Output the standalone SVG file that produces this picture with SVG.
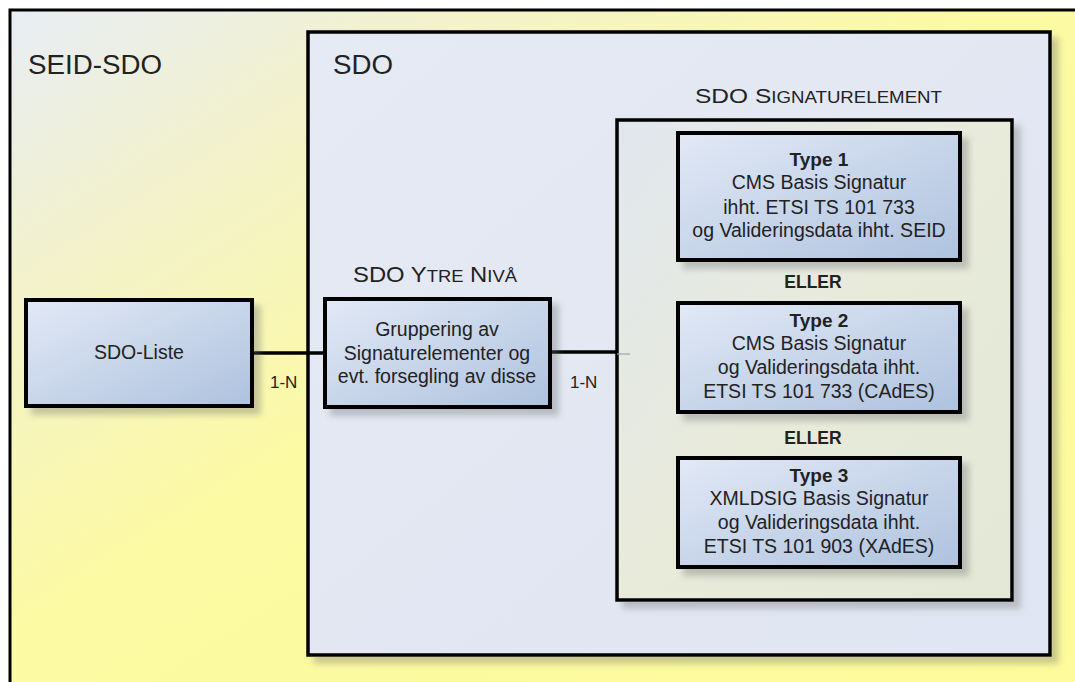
<svg xmlns="http://www.w3.org/2000/svg" width="1075" height="682" viewBox="0 0 1075 682">
<style>
text{font-family:"Liberation Sans",Arial,sans-serif;fill:#222}
.t{font-size:19.5px;text-anchor:middle}
.b{font-weight:bold;font-size:19px}
.box{fill:url(#gBox);stroke:#000;stroke-width:4;filter:url(#sh)}
.cont{stroke:#000;stroke-width:3.5}
.conn{stroke:#000;stroke-width:3.5;fill:none}
.lbl{font-size:17px}
.el{font-weight:bold;font-size:17.5px;text-anchor:middle}
</style>
<defs>
<linearGradient id="gOuter" x1="0" y1="0" x2="1" y2="1">
<stop offset="0" stop-color="#e8edf5"/>
<stop offset="0.2" stop-color="#f3f2cc"/>
<stop offset="0.45" stop-color="#fcfaa3"/>
<stop offset="1" stop-color="#fdfb9a"/>
</linearGradient>
<linearGradient id="gSDO" x1="0" y1="0" x2="1" y2="1">
<stop offset="0" stop-color="#e6eaf4"/>
<stop offset="1" stop-color="#dfe5f2"/>
</linearGradient>
<linearGradient id="gSig" x1="0" y1="0" x2="1" y2="1">
<stop offset="0" stop-color="#e2e7ef"/>
<stop offset="0.5" stop-color="#e8ebda"/>
<stop offset="1" stop-color="#e3e8d6"/>
</linearGradient>
<linearGradient id="gBox" x1="0" y1="0" x2="1" y2="1">
<stop offset="0" stop-color="#e2e9f6"/>
<stop offset="1" stop-color="#aec2de"/>
</linearGradient>
<filter id="sh" x="-10%" y="-10%" width="130%" height="130%">
<feDropShadow dx="7" dy="7" stdDeviation="3" flood-color="#6b6b6b" flood-opacity="0.35"/>
</filter>
</defs>

<g id="seid-sdo">
<rect x="10" y="10" width="1100" height="700" fill="url(#gOuter)" stroke="#000" stroke-width="3"/>
<text x="28" y="74" style="font-size:27px" textLength="134" lengthAdjust="spacingAndGlyphs">SEID-SDO</text>
</g>

<g id="sdo">
<rect class="cont" x="308" y="32" width="742" height="623" fill="url(#gSDO)" filter="url(#sh)"/>
<text x="333" y="74" style="font-size:27px" textLength="60" lengthAdjust="spacingAndGlyphs">SDO</text>
</g>

<g id="sdo-signaturelement">
<rect class="cont" x="617" y="120" width="395" height="480" fill="url(#gSig)" filter="url(#sh)"/>
<text x="695" y="103" style="font-size:21px" textLength="247" lengthAdjust="spacingAndGlyphs">SDO S<tspan style="font-size:16px">IGNATURELEMENT</tspan></text>
</g>

<g id="connectors">
<line class="conn" x1="252" y1="353" x2="325" y2="353"/>
<line class="conn" x1="550" y1="352" x2="617" y2="352"/>
<line x1="617" y1="354" x2="630" y2="354" stroke="#9aa6b8" stroke-width="2" opacity="0.6"/>
<text class="lbl" x="270" y="388">1-N</text>
<text class="lbl" x="570" y="388">1-N</text>
</g>

<g id="sdo-liste">
<rect class="box" x="26" y="300" width="226" height="106"/>
<text class="t" x="139" y="359">SDO-Liste</text>
</g>

<g id="sdo-ytre-niva">
<text x="353" y="282" style="font-size:22px" textLength="164" lengthAdjust="spacingAndGlyphs">SDO Y<tspan style="font-size:17px">TRE</tspan> N<tspan style="font-size:17px">IVÅ</tspan></text>
<rect class="box" x="325" y="299" width="225" height="108"/>
<text class="t" x="437" y="336">Gruppering av</text>
<text class="t" x="437" y="360">Signaturelementer og</text>
<text class="t" x="437" y="383">evt. forsegling av disse</text>
</g>

<g id="type1">
<rect class="box" x="678" y="133" width="282" height="127"/>
<text class="t b" x="819" y="166">Type 1</text>
<text class="t" x="819" y="189">CMS Basis Signatur</text>
<text class="t" x="819" y="214">ihht. ETSI TS 101 733</text>
<text class="t" x="819" y="237">og Valideringsdata ihht. SEID</text>
</g>

<g id="eller1">
<text class="el" x="813" y="288">ELLER</text>
</g>

<g id="type2">
<rect class="box" x="678" y="303" width="282" height="109"/>
<text class="t b" x="819" y="327">Type 2</text>
<text class="t" x="819" y="350">CMS Basis Signatur</text>
<text class="t" x="819" y="374">og Valideringsdata ihht.</text>
<text class="t" x="819" y="398">ETSI TS 101 733 (CAdES)</text>
</g>

<g id="eller2">
<text class="el" x="813" y="444">ELLER</text>
</g>

<g id="type3">
<rect class="box" x="678" y="458" width="282" height="109"/>
<text class="t b" x="819" y="482">Type 3</text>
<text class="t" x="819" y="505">XMLDSIG Basis Signatur</text>
<text class="t" x="819" y="529">og Valideringsdata ihht.</text>
<text class="t" x="819" y="553">ETSI TS 101 903 (XAdES)</text>
</g>
</svg>
